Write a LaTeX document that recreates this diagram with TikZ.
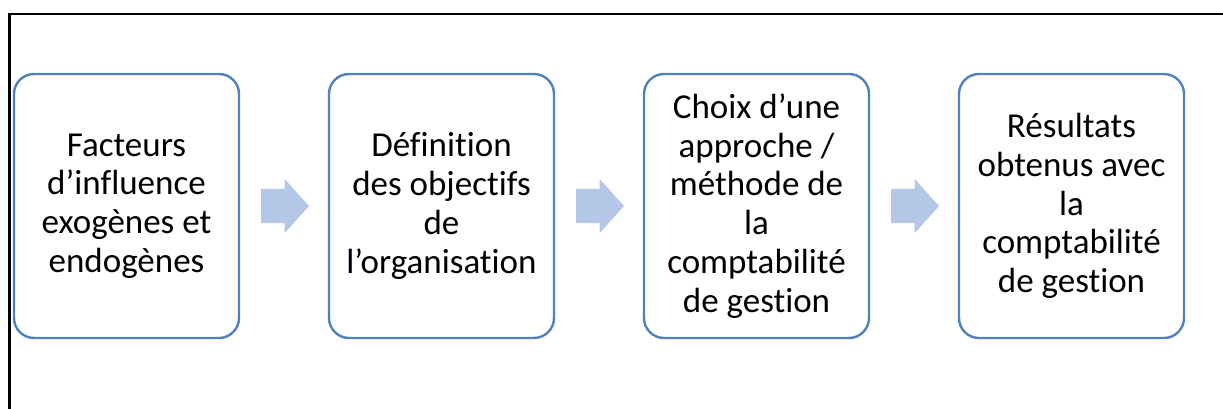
\documentclass[tikz,border=0pt]{standalone}
\usepackage{fontspec}
\setmainfont{Carlito}[Ligatures=NoCommon]
\usepackage{xcolor}
\usetikzlibrary{positioning, shapes.arrows}
\definecolor{boxblue}{HTML}{4F81BD}
\definecolor{arrowblue}{HTML}{B4C7E7}

\begin{document}
\begin{tikzpicture}[x=1pt,y=-1pt,inner sep=0pt,outer sep=0pt,
  stepbox/.style={draw=boxblue,line width=2.4pt,rounded corners=20pt,
    minimum width=225pt,minimum height=264pt,align=center,
    font=\fontsize{35}{38.7}\selectfont},
  flowarrow/.style={single arrow,fill=arrowblue,draw=none,
    minimum height=48pt,inner xsep=0pt,inner ysep=17pt,
    single arrow head extend=10pt,single arrow tip angle=96}]
\useasboundingbox (0,0) rectangle (1223,409);
\draw[line width=2.2pt] (9.5,409) -- (9.5,14) -- (1223,14);
\node[stepbox] (facteurs) at (126.5,206) {Facteurs\\d’influence\\exogènes et\\endogènes};
\node[stepbox,right=90pt of facteurs] (objectifs) {Définition\\des objectifs\\de\\l’organisation};
\node[stepbox,right=90pt of objectifs] (methode) {Choix d’une\\approche /\\méthode de\\la\\comptabilité\\de gestion};
\node[stepbox,right=90pt of methode] (resultats) {Résultats\\obtenus avec\\la\\comptabilité\\de gestion};
\node[flowarrow,right=22pt of facteurs] (fl1) {};
\node[flowarrow,right=22pt of objectifs] (fl2) {};
\node[flowarrow,right=22pt of methode] (fl3) {};
\end{tikzpicture}
\end{document}
